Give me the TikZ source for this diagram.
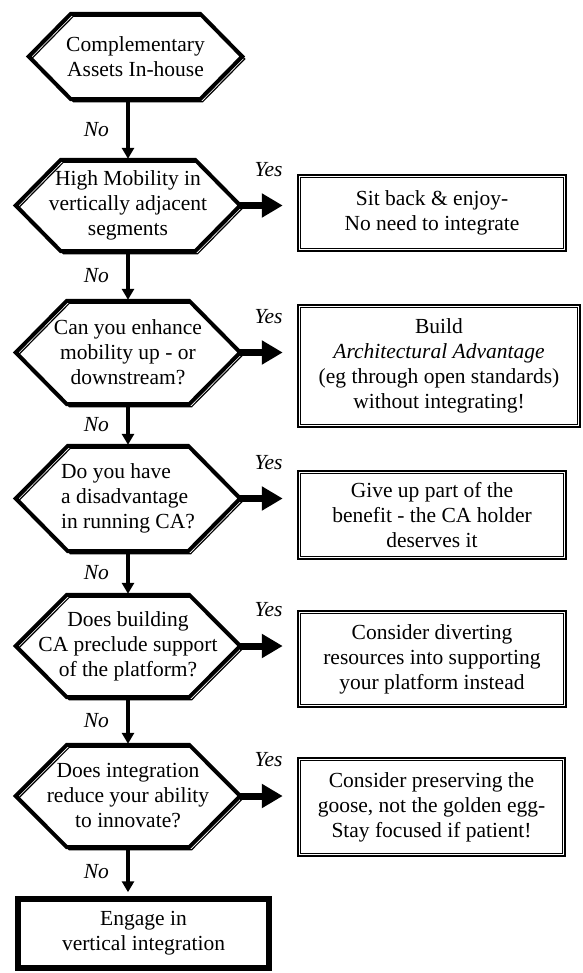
\documentclass[tikz,border=0pt]{standalone}
\usepackage{fontspec}
\setmainfont{Liberation Serif}
\usepackage{tikz}
\usetikzlibrary{arrows.meta, positioning}

\begin{document}
\begin{tikzpicture}[
    x=1pt, y=1pt,
    font=\fontsize{21.5}{25}\selectfont,
    question/.style={rectangle, inner sep=0pt, align=center, minimum width=224pt},
    answer/.style={rectangle, draw, line width=2.5pt, inner sep=0pt, align=center},
    final/.style={rectangle, draw, line width=6.5pt, inner sep=0pt, align=center},
    edge label/.style={font=\fontsize{21.5}{25}\selectfont\itshape},
    down/.style={line width=3.5pt, -{Triangle[width=12pt, length=11pt]}, shorten >=1pt},
    yes/.style={line width=7pt, -{Triangle[width=23pt, length=21pt]}, shorten >=14pt},
    hex thick/.style={line width=4pt},
    hex thin/.style={line width=1.2pt, transform canvas={shift={(2.5pt,-2.5pt)}}}
]

\useasboundingbox (0,0) rectangle (582,-973);

% questions
\node[question, minimum width=213pt, minimum height=85pt] (Q1) at (135.5,-56.5) {Complementary\\Assets In-house};
\node[question, minimum height=91pt] (Q2) at (128,-205.5) {High Mobility in\\vertically adjacent\\segments};
\node[question, minimum height=103pt] (Q3) at (128,-352.5) {Can you enhance\\mobility up - or\\downstream?};
\node[question, minimum height=105pt, align=left] (Q4) at (128,-498.5) {Do you have\\a disadvantage\\ in running CA?};
\node[question, minimum height=102pt] (Q5) at (128,-646) {Does building\\CA preclude support\\of the platform?};
\node[question, minimum height=102pt] (Q6) at (128,-796) {Does integration\\reduce your ability\\to innovate?};

% answers
\node[answer, minimum width=268pt, minimum height=76pt] (B1) at (432,-213) {Sit back \& enjoy-\\No need to integrate};
\node[answer, minimum width=282pt, minimum height=122pt] (B2) at (439,-366) {Build\\\textit{Architectural Advantage}\\(eg through open standards)\\without integrating!};
\node[answer, minimum width=268pt, minimum height=88pt] (B3) at (432,-515) {Give up part of the\\benefit - the CA holder\\deserves it};
\node[answer, minimum width=268pt, minimum height=96pt] (B4) at (432,-659) {Consider diverting\\resources into supporting\\your platform instead};
\node[answer, minimum width=267pt, minimum height=98pt] (B5) at (431.5,-807) {Consider preserving the\\goose, not the golden egg-\\Stay focused if patient!};

\node[final, minimum width=251pt, minimum height=69pt] (E) at (143.5,-933.5) {Engage in\\vertical integration};

% hexagon borders
\foreach \q/\s in {Q1/42, Q2/45, Q3/51, Q4/52, Q5/51, Q6/51} {
  \draw[hex thick] (\q.west) -- ([xshift=\s pt]\q.north west) -- ([xshift=-\s pt]\q.north east) -- (\q.east) -- ([xshift=-\s pt]\q.south east) -- ([xshift=\s pt]\q.south west) -- cycle;
  \draw[hex thin] (\q.west) -- ([xshift=\s pt]\q.north west) -- ([xshift=-\s pt]\q.north east) -- (\q.east) -- ([xshift=-\s pt]\q.south east) -- ([xshift=\s pt]\q.south west) -- cycle;
}

% inner lines of the answers
\foreach \i in {1,...,5}
  \draw[line width=1pt] ([shift={(3.5pt,-3.5pt)}]B\i.north west) rectangle ([shift={(-3.5pt,3.5pt)}]B\i.south east);

\draw[down] (Q1.south -| Q2) -- (Q2.north) node[midway, left=14pt, edge label] {No};
\draw[down] (Q2.south) -- (Q3.north) node[midway, left=14pt, edge label] {No};
\draw[down] (Q3.south) -- (Q4.north) node[midway, left=14pt, edge label] {No};
\draw[down] (Q4.south) -- (Q5.north) node[midway, left=14pt, edge label] {No};
\draw[down] (Q5.south) -- (Q6.north) node[midway, left=14pt, edge label] {No};
\draw[down, shorten >=3.5pt] (Q6.south) -- (Q6.south |- E.north) node[midway, left=14pt, edge label] {No};

\draw[yes] (Q2.east) -- (Q2.east -| B1.west) node[midway, above=22pt, edge label] {Yes};
\draw[yes] (Q3.east) -- (Q3.east -| B2.west) node[midway, above=22pt, edge label] {Yes};
\draw[yes] (Q4.east) -- (Q4.east -| B3.west) node[midway, above=22pt, edge label] {Yes};
\draw[yes] (Q5.east) -- (Q5.east -| B4.west) node[midway, above=22pt, edge label] {Yes};
\draw[yes] (Q6.east) -- (Q6.east -| B5.west) node[midway, above=22pt, edge label] {Yes};

\end{tikzpicture}
\end{document}
